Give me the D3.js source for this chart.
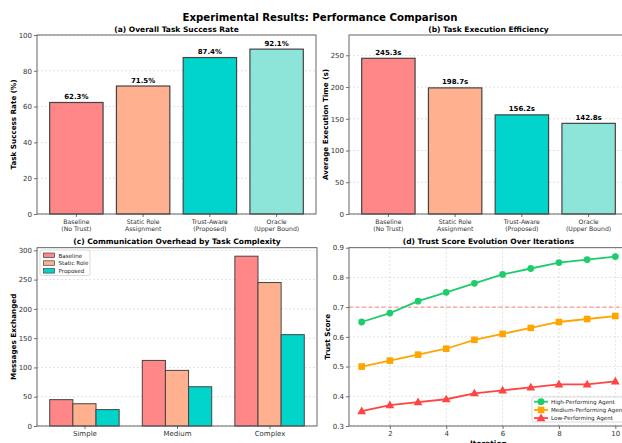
<!DOCTYPE html>
<html><head><meta charset="utf-8">
<script src="https://cdn.jsdelivr.net/npm/d3@7"></script>
<style>body{margin:0;background:#fff}text{font-family:"DejaVu Sans",sans-serif}</style>
</head><body>
<svg id="chart" width="622" height="443"></svg>
<script>
// ---- data ----
const methods = ["Baseline|(No Trust)", "Static Role|Assignment", "Trust-Aware|(Proposed)", "Oracle|(Upper Bound)"];
const successRate = [62.3, 71.5, 87.4, 92.1];
const execTime = [245.3, 198.7, 156.2, 142.8];
const complexity = ["Simple", "Medium", "Complex"];
const msgBaseline = [45, 112, 290];
const msgStatic = [38, 95, 245];
const msgProposed = [28, 67, 156];
const iterations = [1, 2, 3, 4, 5, 6, 7, 8, 9, 10];
const trustHigh = [0.65, 0.68, 0.72, 0.75, 0.78, 0.81, 0.83, 0.85, 0.86, 0.87];
const trustMed = [0.50, 0.52, 0.54, 0.56, 0.59, 0.61, 0.63, 0.65, 0.66, 0.67];
const trustLow = [0.35, 0.37, 0.38, 0.39, 0.41, 0.42, 0.43, 0.44, 0.44, 0.45];
const trustThreshold = 0.7;
const ticksA = [0, 20, 40, 60, 80, 100];
const ticksB = [0, 50, 100, 150, 200, 250];
const ticksC = [0, 50, 100, 150, 200, 250, 300];
const ticksDy = [0.3, 0.4, 0.5, 0.6, 0.7, 0.8, 0.9];
const ticksDx = [2, 4, 6, 8, 10];

const barColors = ["#FF8787", "#FFB08F", "#00D4CB", "#8DE4D9"];
const lineColors = ["#1FCC6B", "#FFA500", "#FF4444"];

const svg = d3.select("#chart");
const tickCol = "#333";

svg.append("text").attr("x", 320).attr("y", 20.5).attr("text-anchor", "middle")
  .attr("font-size", 10.2).attr("font-weight", "bold").text("Experimental Results: Performance Comparison");

function frame(x, y, gridX, gridY, yTicks, xTicks) {
  const [x0, x1] = x.range(), [y0, y1] = y.range();
  const g = svg.append("g");
  if (gridY) g.selectAll(".gy").data(yTicks).join("line")
    .attr("x1", x0).attr("x2", x1).attr("y1", d => y(d)).attr("y2", d => y(d))
    .attr("stroke", "#bbb").attr("stroke-width", 0.6).attr("stroke-dasharray", "2,2").attr("opacity", 0.7);
  if (gridX) g.selectAll(".gx").data(xTicks).join("line")
    .attr("y1", y0).attr("y2", y1).attr("x1", d => x(d)).attr("x2", d => x(d))
    .attr("stroke", "#bbb").attr("stroke-width", 0.6).attr("stroke-dasharray", "2,2").attr("opacity", 0.7);
  return g;
}
function axes(x, y, yTicks, xTicks, fmt, xTickFmt) {
  const [x0, x1] = x.range(), [y0, y1] = y.range();
  const ya = svg.append("g").attr("transform", `translate(${x0},0)`)
    .call(d3.axisLeft(y).tickValues(yTicks).tickSize(3).tickPadding(2).tickFormat(fmt));
  ya.select(".domain").remove();
  ya.selectAll("text").attr("font-size", 7).attr("fill", tickCol).style("font-family", "DejaVu Sans");
  ya.selectAll("line").attr("stroke", "#333").attr("stroke-width", 0.7);
  if (xTicks) {
    const xa = svg.append("g").attr("transform", `translate(0,${y0})`)
      .call(d3.axisBottom(x).tickValues(xTicks).tickSize(3).tickPadding(2).tickFormat(xTickFmt));
    xa.select(".domain").remove();
    xa.selectAll("text").attr("font-size", 7).attr("fill", tickCol).style("font-family", "DejaVu Sans");
    xa.selectAll("line").attr("stroke", "#333").attr("stroke-width", 0.7);
  }
  svg.append("rect").attr("x", x0).attr("y", y1).attr("width", x1 - x0).attr("height", y0 - y1)
    .attr("fill", "none").attr("stroke", "#555").attr("stroke-width", 0.9);
}
function title(x, yPos, t) {
  const [x0, x1] = x.range();
  svg.append("text").attr("x", (x0 + x1) / 2).attr("y", yPos).attr("text-anchor", "middle")
    .attr("font-size", 7.5).attr("font-weight", "bold").text(t);
}
function ylabel(xPos, y, t) {
  const [y0, y1] = y.range();
  svg.append("text").attr("transform", `translate(${xPos},${(y0 + y1) / 2}) rotate(-90)`)
    .attr("text-anchor", "middle").attr("font-size", 7.2).attr("font-weight", "bold").text(t);
}

// ---- (a) & (b) bar panels ----
function barPanel(x, y, values, yTicks, labelFmt, ttl, ylab, ylx) {
  frame(x, y, false, true, yTicks);
  const bw = x(0.4) - x(-0.4);
  svg.append("g").selectAll("rect").data(values).join("rect")
    .attr("x", (d, i) => x(i - 0.4)).attr("width", bw)
    .attr("y", d => y(d)).attr("height", d => y(0) - y(d))
    .attr("fill", (d, i) => barColors[i]).attr("stroke", "#444").attr("stroke-width", 1.2);
  svg.append("g").selectAll("text").data(values).join("text")
    .attr("x", (d, i) => x(i)).attr("y", d => y(d) - 3.5).attr("text-anchor", "middle")
    .attr("font-size", 7).attr("font-weight", "bold").text(labelFmt);
  axes(x, y, yTicks, null, d => d);
  const y0 = y.range()[0];
  methods.forEach((m, i) => {
    svg.append("line").attr("x1", x(i)).attr("x2", x(i)).attr("y1", y0).attr("y2", y0 + 3).attr("stroke", "#333").attr("stroke-width", 0.7);
    m.split("|").forEach((s, j) => {
      svg.append("text").attr("x", x(i)).attr("y", y0 + 9.5 + j * 7).attr("text-anchor", "middle")
        .attr("font-size", 6.2).attr("fill", tickCol).text(s);
    });
  });
  title(x, 32, ttl);
  ylabel(ylx, y, ylab);
}
const xA = d3.scaleLinear().domain([-0.59, 3.59]).range([37, 316]);
const yA = d3.scaleLinear().domain([0, 100]).range([214, 35]);
barPanel(xA, yA, successRate, ticksA, d => d.toFixed(1) + "%", "(a) Overall Task Success Rate", "Task Success Rate (%)", 16);

const xB = d3.scaleLinear().domain([-0.59, 3.59]).range([349, 628]);
const yB = d3.scaleLinear().domain([0, 282]).range([214, 35]);
barPanel(xB, yB, execTime, ticksB, d => d.toFixed(1) + "s", "(b) Task Execution Efficiency", "Average Execution Time (s)", 328);

// ---- (c) grouped bars ----
const xC = d3.scaleLinear().domain([-0.5125, 2.5125]).range([37, 317]);
const yC = d3.scaleLinear().domain([0, 304.5]).range([426, 247.7]);
frame(xC, yC, false, true, ticksC);
const groups = [["Baseline", msgBaseline], ["Static Role", msgStatic], ["Proposed", msgProposed]];
const w = 0.25;
groups.forEach(([name, vals], k) => {
  svg.append("g").selectAll("rect").data(vals).join("rect")
    .attr("x", (d, i) => xC(i + (k - 1) * w - w / 2)).attr("width", xC(w) - xC(0))
    .attr("y", d => yC(d)).attr("height", d => yC(0) - yC(d))
    .attr("fill", barColors[k]).attr("stroke", "#444").attr("stroke-width", 1);
});
axes(xC, yC, ticksC, [0, 1, 2], d => d, i => complexity[i]);
title(xC, 243.5, "(c) Communication Overhead by Task Complexity");
ylabel(16, yC, "Messages Exchanged");
const lgC = svg.append("g").attr("transform", "translate(40,250)");
lgC.append("rect").attr("width", 50).attr("height", 25.5).attr("rx", 2).attr("fill", "#fff").attr("fill-opacity", 0.8).attr("stroke", "#ccc").attr("stroke-width", 0.7);
groups.forEach(([name], k) => {
  lgC.append("rect").attr("x", 3.5).attr("y", 3 + k * 7.8).attr("width", 11).attr("height", 4.5)
    .attr("fill", barColors[k]).attr("stroke", "#444").attr("stroke-width", 0.7);
  lgC.append("text").attr("x", 18.5).attr("y", 7.5 + k * 7.8).attr("font-size", 5.6).attr("fill", "#222").text(name);
});

// ---- (d) lines ----
const xD = d3.scaleLinear().domain([0.55, 10.45]).range([349, 628]);
const yD = d3.scaleLinear().domain([0.3, 0.9]).range([426, 247.7]);
frame(xD, yD, true, true, ticksDy, ticksDx);
svg.append("line").attr("x1", xD.range()[0]).attr("x2", xD.range()[1])
  .attr("y1", yD(trustThreshold)).attr("y2", yD(trustThreshold))
  .attr("stroke", "#FF6666").attr("stroke-width", 1).attr("stroke-dasharray", "4,2.5").attr("opacity", 0.8);
const series = [["High-Performing Agent", trustHigh, "circle"], ["Medium-Performing Agent", trustMed, "square"], ["Low-Performing Agent", trustLow, "triangle"]];
const line = d3.line().x((d, i) => xD(iterations[i])).y(d => yD(d));
function marker(g, type, cx, cy, col) {
  if (type === "circle") g.append("circle").attr("cx", cx).attr("cy", cy).attr("r", 3.4).attr("fill", col);
  else if (type === "square") g.append("rect").attr("x", cx - 3.3).attr("y", cy - 3.3).attr("width", 6.6).attr("height", 6.6).attr("fill", col);
  else g.append("path").attr("d", d3.symbol(d3.symbolTriangle, 34)()).attr("transform", `translate(${cx},${cy + 0.5})`).attr("fill", col);
}
series.forEach(([name, vals, type], k) => {
  svg.append("path").datum(vals).attr("d", line).attr("fill", "none").attr("stroke", lineColors[k]).attr("stroke-width", 1.8);
  const g = svg.append("g");
  vals.forEach((v, i) => marker(g, type, xD(iterations[i]), yD(v), lineColors[k]));
});
axes(xD, yD, ticksDy, ticksDx, d3.format(".1f"), d => d);
title(xD, 243.5, "(d) Trust Score Evolution Over Iterations");
ylabel(330, yD, "Trust Score");
svg.append("text").attr("x", (xD.range()[0] + xD.range()[1]) / 2).attr("y", 446).attr("text-anchor", "middle")
  .attr("font-size", 7.5).attr("font-weight", "bold").text("Iteration");
const lgD = svg.append("g").attr("transform", "translate(532,397)");
lgD.append("rect").attr("width", 94).attr("height", 25).attr("rx", 2).attr("fill", "#fff").attr("fill-opacity", 0.85).attr("stroke", "#ccc").attr("stroke-width", 0.7);
series.forEach(([name, vals, type], k) => {
  const yy = 4.7 + k * 8.2;
  lgD.append("line").attr("x1", 2).attr("x2", 16).attr("y1", yy).attr("y2", yy).attr("stroke", lineColors[k]).attr("stroke-width", 1.8);
  marker(lgD, type, 9, yy, lineColors[k]);
  lgD.append("text").attr("x", 19).attr("y", yy + 2).attr("font-size", 5.6).attr("fill", "#222").text(name);
});
</script>
</body></html>
